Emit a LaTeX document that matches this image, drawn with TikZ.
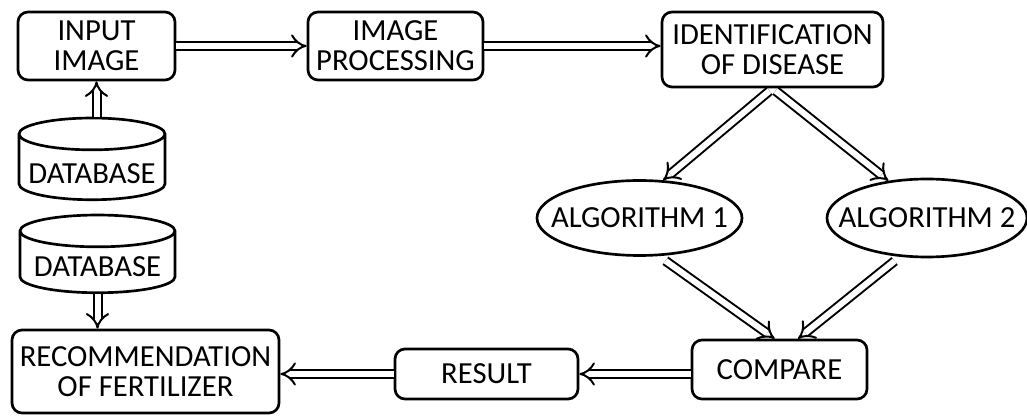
\documentclass[tikz,border=0pt]{standalone}
\usepackage{fontspec}
\setmainfont{Carlito}
\usetikzlibrary{shapes.geometric,arrows.meta}

\begin{document}
\begin{tikzpicture}[x=0.75pt,y=0.75pt,yscale=-1,xscale=1,
    stage/.style={draw, line width=2pt, rounded corners=7.5pt, inner sep=0pt, align=center, font=\fontsize{23}{22.5}\selectfont},
    algo/.style={draw, ellipse, line width=2pt, inner ysep=0pt, inner xsep=-16pt, align=center, font=\fontsize{23}{22.5}\selectfont},
    store/.style={draw, cylinder, shape border rotate=90, aspect=0.25, line width=2pt, inner sep=0pt, text depth=0pt, font=\fontsize{23}{22.5}\selectfont},
    flow/.style={double, double distance=4.5pt, line width=1.5pt, -{Implies[scale=1.35]}}]
    \useasboundingbox (0,0) rectangle (1027,416); %page is 1027 x 416

    %Shape: Rounded Rect [id:input]
    \node[stage, minimum width=117.75pt, minimum height=51pt] (input) at (96.5,46) {INPUT\\IMAGE};
    %Shape: Rounded Rect [id:improc]
    \node[stage, minimum width=131.25pt, minimum height=51pt] (improc) at (395.5,46) {IMAGE\\PROCESSING};
    %Shape: Rounded Rect [id:ident]
    \node[stage, minimum width=165.75pt, minimum height=56.25pt] (ident) at (772.5,49.5) {IDENTIFICATION\\OF DISEASE};
    %Shape: Can [id:db1]
    \node[store, text height=24.5pt, minimum width=109.5pt, minimum height=44.25pt] (db1) at (92,167.5) {DATABASE};
    %Shape: Ellipse [id:alg1]
    \node[algo, minimum width=153.75pt, minimum height=56.25pt] (alg1) at (639.5,218) {ALGORITHM 1};
    %Shape: Ellipse [id:alg2]
    \node[algo, minimum width=150pt, minimum height=58.5pt] (alg2) at (927,218) {ALGORITHM 2};
    %Shape: Can [id:db2]
    \node[store, text height=21.5pt, minimum width=116.25pt, minimum height=41.25pt] (db2) at (97.5,262.5) {DATABASE};
    %Shape: Rounded Rect [id:recom]
    \node[stage, minimum width=200.25pt, minimum height=62.25pt] (recom) at (145.5,371.5) {RECOMMENDATION\\OF FERTILIZER};
    %Shape: Rounded Rect [id:result]
    \node[stage, minimum width=137.25pt, minimum height=37.5pt] (result) at (486.5,374) {RESULT};
    %Shape: Rounded Rect [id:compare]
    \node[stage, minimum width=131.25pt, minimum height=44.25pt] (compare) at (779.5,369.5) {COMPARE};

    %Double Arrows
    \draw[flow] (input.south |- db1.north) -- (input.south);
    \draw[flow] (input.east) -- (input.east -| improc.west);
    \draw[flow] (improc.east) -- (improc.east -| ident.west);
    \draw[flow, shorten <=3pt] (ident.south) -- (alg1.58);
    \draw[flow, shorten <=3pt] (ident.south) -- (alg2.136);
    \draw[flow, shorten <=6pt] (alg1.297) -- (compare.99);
    \draw[flow, shorten <=5pt] (alg2.235) -- (compare.59);
    \draw[flow] (result.east -| compare.west) -- (result.east);
    \draw[flow] (result.west) -- (result.west -| recom.east);
    \draw[flow] (db2.south) -- (db2.south |- recom.north);
\end{tikzpicture}
\end{document}
